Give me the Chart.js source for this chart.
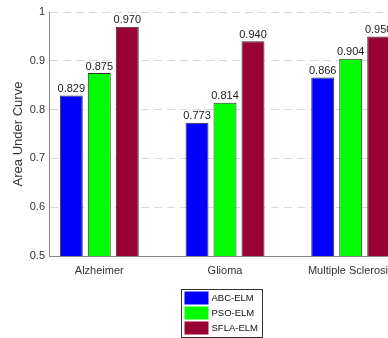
<!DOCTYPE html>
<html>
<head>
<meta charset="utf-8">
<script src="https://cdn.jsdelivr.net/npm/chart.js@4"></script>
<style>
  html, body { margin: 0; padding: 0; background: #fff; overflow: hidden; }
  #wrap { width: 443px; height: 338px; }
</style>
</head>
<body>
<div id="wrap"><canvas id="c" width="443" height="338"></canvas></div>
<script>
// Disease categories and AUC per classifier
const categories = ['Alzheimer', 'Glioma', 'Multiple Sclerosis'];
const seriesNames = ['ABC-ELM', 'PSO-ELM', 'SFLA-ELM'];
const abcElm  = [0.829, 0.773, 0.866];
const psoElm  = [0.875, 0.814, 0.904];
const sflaElm = [0.970, 0.940, 0.950];
const yTicks  = [0.5, 0.6, 0.7, 0.8, 0.9, 1];

const seriesValues = [abcElm, psoElm, sflaElm];
const seriesColors = ['#0000ff', '#00ff00', '#990033'];
const FONT = '"Liberation Sans", Arial, Helvetica, sans-serif';

// Numeric value printed above each bar
const valueLabels = {
  id: 'valueLabels',
  afterDatasetsDraw(chart) {
    const ctx = chart.ctx;
    ctx.save();
    ctx.font = '11px ' + FONT;
    ctx.fillStyle = '#222';
    ctx.textAlign = 'center';
    ctx.textBaseline = 'bottom';
    chart.data.datasets.forEach((ds, di) => {
      chart.getDatasetMeta(di).data.forEach((bar, i) => {
        ctx.fillText(ds.data[i].y.toFixed(3), bar.x, bar.y - 1);
      });
    });
    ctx.restore();
  }
};

// Boxed legend stacked vertically under the axis labels
const boxLegend = {
  id: 'boxLegend',
  afterDraw(chart) {
    const ctx = chart.ctx;
    const w = 81, h = 48, rowH = 15;
    const x0 = Math.round(chart.width / 2 - w / 2) + 0.5;
    const y0 = Math.round(chart.chartArea.bottom + 33) + 0.5;
    ctx.save();
    ctx.fillStyle = '#fff';
    ctx.fillRect(x0, y0, w, h);
    ctx.strokeStyle = '#333';
    ctx.lineWidth = 1;
    ctx.strokeRect(x0, y0, w, h);
    ctx.font = '9.5px ' + FONT;
    ctx.textBaseline = 'middle';
    ctx.textAlign = 'left';
    chart.data.datasets.forEach((ds, i) => {
      const ry = y0 + 2 + i * rowH;
      ctx.fillStyle = ds.backgroundColor;
      ctx.fillRect(x0 + 3, ry, 24, 13);
      ctx.fillStyle = '#111';
      ctx.fillText(ds.label, x0 + 30, ry + 7);
    });
    ctx.restore();
  }
};

const datasets = seriesNames.map((name, s) => ({
  label: name,
  data: seriesValues[s].map((v, i) => ({ x: i + 1, y: v })),
  backgroundColor: seriesColors[s],
  borderColor: '#333',
  borderWidth: 1,
  categoryPercentage: 0.668,
  barPercentage: 0.82
}));

new Chart(document.getElementById('c'), {
  type: 'bar',
  data: { datasets },
  plugins: [valueLabels, boxLegend],
  options: {
    responsive: false,
    animation: false,
    layout: { padding: { top: 12, right: 42, bottom: 60, left: 0 } },
    plugins: { legend: { display: false }, tooltip: { enabled: false } },
    scales: {
      x: {
        type: 'linear',
        offset: false,
        min: 0.6,
        max: 3.4,
        afterBuildTicks(scale) { scale.ticks = categories.map((c, i) => ({ value: i + 1 })); },
        afterFit(scale) { scale.height = 22; },
        grid: { display: false, drawTicks: false },
        border: { display: true, color: '#8a8a8a', width: 1 },
        ticks: {
          padding: 8,
          maxRotation: 0,
          autoSkip: false,
          color: '#333',
          font: { family: FONT, size: 11 },
          callback: (v) => categories[v - 1]
        }
      },
      y: {
        min: 0.5,
        max: 1,
        afterBuildTicks(scale) { scale.ticks = yTicks.map(v => ({ value: v })); },
        afterFit(scale) { scale.width = 49; },
        grid: { color: '#d9d9d9', lineWidth: 1, drawTicks: false },
        border: { display: true, color: '#8a8a8a', width: 1, dash: [8, 5] },
        ticks: {
          padding: 4,
          color: '#333',
          font: { family: FONT, size: 11 },
          callback: (v) => String(Number(v.toFixed(1)))
        },
        title: {
          display: true,
          text: 'Area Under Curve',
          color: '#333',
          font: { family: FONT, size: 13 },
          padding: { top: 11, bottom: 0 }
        }
      }
    }
  }
});
</script>
</body>
</html>
